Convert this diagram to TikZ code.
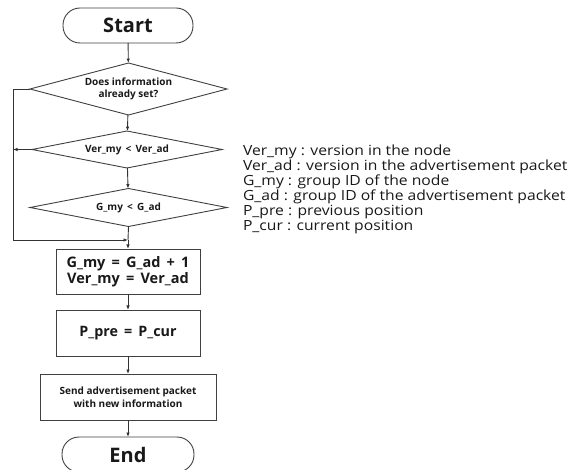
\documentclass[tikz,border=0pt]{standalone}
\usepackage{fontspec}
\setmainfont{Open Sans}
\newfontfamily\legendfont{Open Sans}[FakeStretch=1.12]
\usetikzlibrary{shapes.geometric,arrows.meta}
\begin{document}
\begin{tikzpicture}[x=1pt,y=-1pt,
  every node/.style={inner sep=0pt, outer sep=0pt, text=black!90},
  shp/.style={draw=black!75, line width=0.9pt, fill=white},
  term/.style={shp, rectangle, rounded corners=17pt, minimum width=#1, minimum height=35pt, font=\bfseries\fontsize{20}{22}\selectfont},
  dec/.style={shp, diamond, align=center, font=\bfseries\fontsize{10}{12.5}\selectfont},
  proc/.style={shp, rectangle, align=center},
  flow/.style={draw=black!80, line width=0.9pt, -{Latex[length=4.5pt,width=3.5pt]}},
  line/.style={draw=black!80, line width=0.9pt}
]
\useasboundingbox (0,0) rectangle (573,470);

% terminals
\node[term=130pt] (start) at (128,25.5) {Start};
\node[term=132pt] (end) at (128,454.5) {End};

% decisions
\node[dec, aspect=3.8, minimum width=197pt, minimum height=52pt] (d1) at (128.5,89) {Does information\\already set?};
\node[dec, aspect=5.1, minimum width=190pt, minimum height=37pt] (d2) at (127,149.5) {Ver\_my \,<\, Ver\_ad};
\node[dec, aspect=5.2, minimum width=197pt, minimum height=38pt] (d3) at (128.5,207.5) {G\_my \,<\, G\_ad};

% process boxes
\node[proc, minimum width=144pt, minimum height=45pt, font=\bfseries\fontsize{14.5}{16}\selectfont] (b1) at (128,271.5) {G\_my \,=\, G\_ad \,+\, 1\\Ver\_my \,=\, Ver\_ad};
\node[proc, minimum width=144pt, minimum height=46pt, font=\bfseries\fontsize{14.3}{16}\selectfont] (b2) at (128,333) {P\_pre \,=\, P\_cur};
\node[proc, minimum width=176pt, minimum height=46pt, font=\bfseries\fontsize{10}{12.5}\selectfont] (b3) at (128,397) {Send advertisement packet\\with new information};

% join point above the first process box
\coordinate (j) at (128,240);
\coordinate (lft) at (13,89);

% main flow
\draw[flow] (start) -- (d1);
\draw[flow] (d1) -- (d2);
\draw[flow] (d2) -- (d3);
\draw[line] (d3.south) -- (j);
\draw[flow] (j) -- (b1);
\draw[flow] (b1) -- (b2);
\draw[flow] (b2) -- (b3);
\draw[flow] (b3) -- (end);

% bypass on the left
\draw[flow] (d1.west) -- (lft) |- (j);
\draw[flow] (d2.west) -- (lft |- d2.west);

% legend
\node[anchor=north west, align=left, font=\legendfont\fontsize{14}{13.6}\selectfont] (legend) at (243,145) {%
Ver\_my : version in the node\\
Ver\_ad : version in the advertisement packet\\
G\_my : group ID of the node\\
G\_ad : group ID of the advertisement packet\\
P\_pre : previous position\\
P\_cur : current position};
\end{tikzpicture}
\end{document}
